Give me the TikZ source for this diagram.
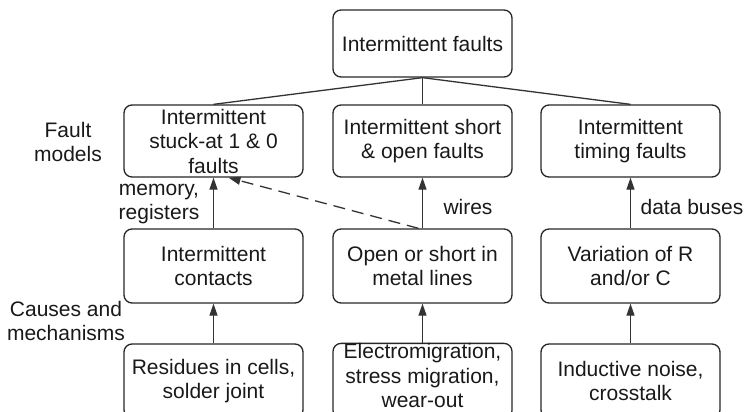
\documentclass[tikz,border=0pt]{standalone}
\usepackage{fontspec}
\setmainfont{Liberation Sans}
\usetikzlibrary{arrows.meta}
\begin{document}
\begin{tikzpicture}[x=1pt,y=-1pt,
  font=\fontsize{21}{24.5}\selectfont,
  box/.style={draw=black!85, line width=1.3pt, rounded corners=8pt,
    minimum width=179pt, inner sep=0pt, align=center, text=black!90},
  lbl/.style={align=center, inner sep=0pt, text=black!90},
  link/.style={draw=black!80, line width=1.3pt},
  up/.style={link, -{Triangle[length=12pt,width=8pt]}},
  dashup/.style={up, dash pattern=on 12pt off 7pt}]
  \useasboundingbox (0,0) rectangle (744,412);
  \clip (0,0) rectangle (744,412);

  % root
  \node[box, minimum height=67pt] (top) at (422.5,43.5) {Intermittent faults};

  % fault models
  \node[box, minimum height=72pt] (l2) at (213.5,141) {Intermittent\\stuck-at 1 \& 0\\faults};
  \node[box, minimum height=72pt] (m2) at (422.5,141) {Intermittent short\\\& open faults};
  \node[box, minimum height=72pt] (r2) at (630.5,141) {Intermittent\\timing faults};

  % causes
  \node[box, minimum height=74pt] (l3) at (213.5,266) {Intermittent\\contacts};
  \node[box, minimum height=74pt] (m3) at (422.5,266) {Open or short in\\metal lines};
  \node[box, minimum height=74pt] (r3) at (630.5,266) {Variation of R\\and/or C};

  % mechanisms
  \node[box, minimum height=74pt] (l4) at (213.5,381) {Residues in cells,\\solder joint};
  \node[box, minimum height=74pt] (m4) at (422.5,381) {Electromigration,\\stress migration,\\wear-out\rule[-11pt]{0pt}{11pt}};
  \node[box, minimum height=74pt] (r4) at (630.5,381) {Inductive noise,\\crosstalk};

  % side labels
  \node[lbl] (fm) at (68,142) {Fault\\models};
  \node[lbl] (cm) at (66,321) {Causes and\\mechanisms};
  \node[lbl] (mr) at (159,204) {memory,\\registers};
  \node[lbl] (wi) at (468,207) {wires};
  \node[lbl] (db) at (692,207) {data buses};

  % tree from the root
  \draw[link] (top.south) -- (l2.north);
  \draw[link] (top.south) -- (m2.north);
  \draw[link] (top.south) -- (r2.north);

  % upward arrows
  \draw[up] (l3.north) -- (l2.south);
  \draw[up] (m3.north) -- (m2.south);
  \draw[up] (r3.north) -- (r2.south);
  \draw[up] (l4.north) -- (l3.south);
  \draw[up] (m4.north) -- (m3.south);
  \draw[up] (r4.north) -- (r3.south);

  % open/short lines can also appear as stuck-at faults
  \coordinate (stk) at ([xshift=15pt]l2.south);
  \draw[dashup] ([xshift=-4pt]m3.north) -- (stk);
\end{tikzpicture}
\end{document}
